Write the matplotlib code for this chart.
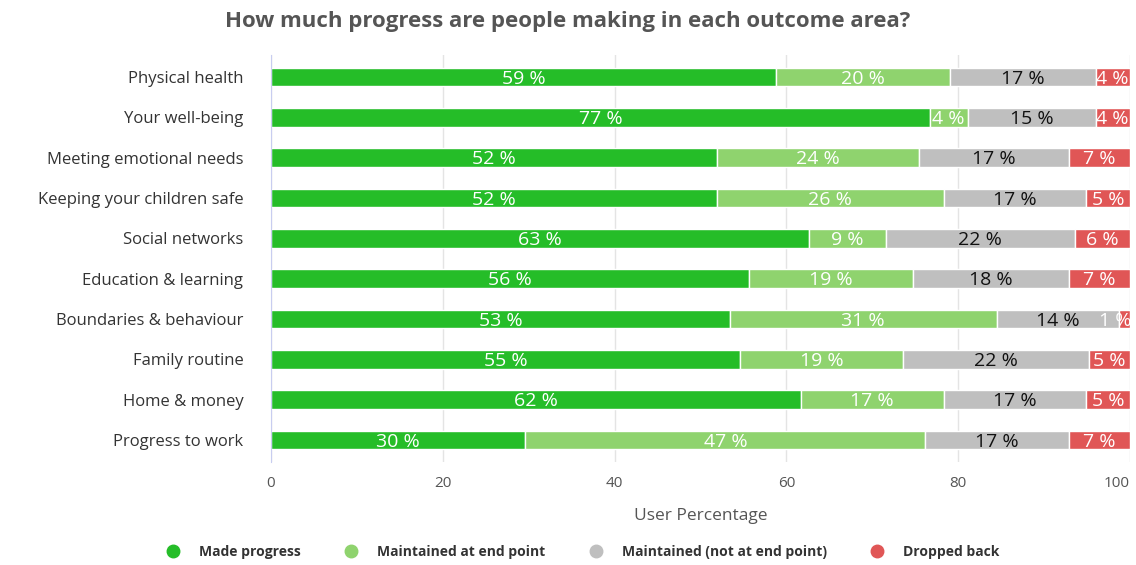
import matplotlib.pyplot as plt
from matplotlib.lines import Line2D

plt.rcParams['font.family'] = ['Open Sans', 'DejaVu Sans']

# data (percent of users)
categories = ['Physical health', 'Your well-being', 'Meeting emotional needs',
              'Keeping your children safe', 'Social networks', 'Education & learning',
              'Boundaries & behaviour', 'Family routine', 'Home & money', 'Progress to work']
made_progress = [58.8, 76.7, 51.9, 51.9, 62.6, 55.6, 53.4, 54.6, 61.7, 29.6]
maintained_end = [20.2, 4.4, 23.6, 26.4, 9.0, 19.2, 31.1, 19.0, 16.6, 46.6]
maintained_not_end = [17.0, 14.9, 17.4, 16.6, 22.0, 18.1, 14.2, 21.6, 16.6, 16.7]
dropped_back = [4.0, 4.0, 7.1, 5.1, 6.4, 7.1, 1.3, 4.8, 5.1, 7.1]

series = [
    ('Made progress', made_progress, '#25bd28', 'white'),
    ('Maintained at end point', maintained_end, '#8fd36e', 'white'),
    ('Maintained (not at end point)', maintained_not_end, '#bfbfbf', '#111111'),
    ('Dropped back', dropped_back, '#e05656', 'white'),
]

fig = plt.figure(figsize=(11.36, 5.65), dpi=100)
ax = fig.add_axes([0.2386, 0.182, 0.756, 0.721])

label_font = ['Liberation Sans Narrow', 'Open Sans', 'DejaVu Sans']
y = list(range(len(categories)))
left = [0.0] * len(categories)
for name, vals, color, tcolor in series:
    ax.barh(y, vals, left=left, height=0.47, color=color, edgecolor='white', linewidth=1, zorder=2)
    for i, v in enumerate(vals):
        # keep the tiny end labels inside the plot
        xc = min(left[i] + v / 2, 98.3)
        ax.text(xc, i + 0.04, f'{round(v)} %', ha='center', va='center',
                color=tcolor, fontsize=14, family=label_font, zorder=3)
    left = [l + v for l, v in zip(left, vals)]

ax.set_xlim(0, 100)
ax.set_ylim(9.55, -0.55)
ax.set_yticks(y)
ax.set_yticklabels(categories, fontsize=12, color='#333333')
ax.set_xticks([0, 20, 40, 60, 80, 100])
ax.tick_params(axis='x', colors='#555555', labelsize=11, length=0, pad=10)
ax.tick_params(axis='y', length=0, pad=20)
ax.get_xticklabels()[-1].set_ha('right')
ax.grid(axis='x', color='#e4e4e4', linewidth=1, zorder=0)
for s in ['top', 'right', 'bottom']:
    ax.spines[s].set_visible(False)
ax.spines['left'].set_color('#c8cdf0')
ax.set_xlabel('User Percentage', fontsize=12.5, color='#555555', labelpad=12)

fig.suptitle('How much progress are people making in each outcome area?',
             x=0.5, y=0.962, va='center', fontsize=16, fontweight='bold', color='#555555')

handles = [Line2D([], [], marker='o', linestyle='', markersize=9,
                  markerfacecolor=c, markeredgecolor=c) for _, _, c, _ in series]
fig.legend(handles, [s[0] for s in series], loc='lower center', bbox_to_anchor=(0.51, -0.012),
           ncol=4, frameon=False, prop={'size': 10, 'weight': 'bold'},
           handletextpad=0.9, columnspacing=2.6, labelcolor='#333333')

fig.savefig('out.png', dpi=100)
